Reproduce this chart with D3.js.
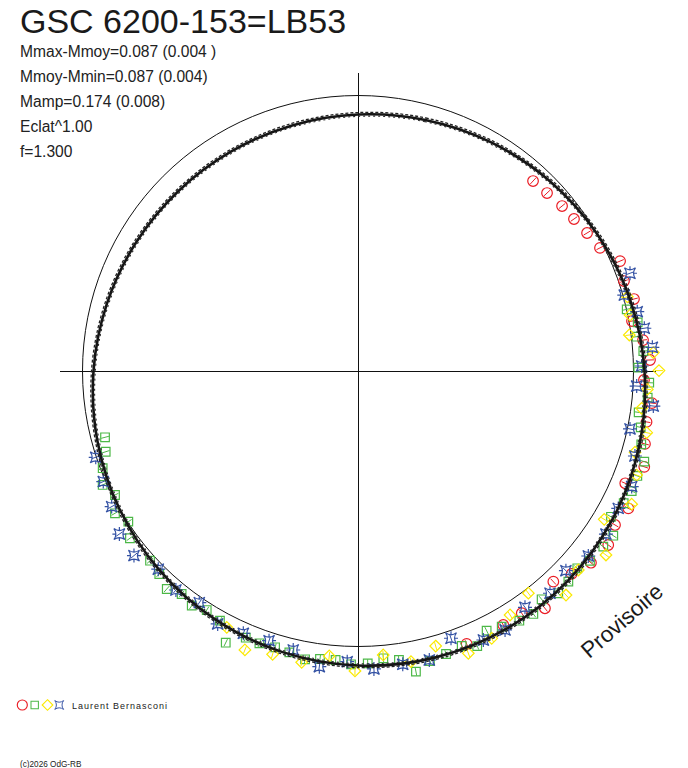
<!DOCTYPE html>
<html><head><meta charset="utf-8">
<script src="https://cdn.jsdelivr.net/npm/d3@7"></script>
<style>body{margin:0;background:#fff}svg{display:block}</style>
</head><body>
<svg id="c" width="688" height="768"></svg>
<script>
// ---- data (phase 0..1 clockwise from top, delta magnitude; negative = brighter) ----
const titleText = "GSC 6200-153=LB53";
const statLines = ["Mmax-Mmoy=0.087 (0.004 )","Mmoy-Mmin=0.087 (0.004)","Mamp=0.174 (0.008)","Eclat^1.00","f=1.300"];
const observer = "Laurent Bernasconi";
const copyright = "(c)2026 OdG-RB";
const stamp = "Provisoire";

const curvePhase = [0,0.0417,0.0833,0.125,0.1667,0.2083,0.25,0.2917,0.3333,0.375,0.4167,0.4583,0.5,0.5417,0.5833,0.625,0.6667,0.7083,0.75,0.7917,0.8333,0.875,0.9167,0.9583];
const curveMag = [0.0753,0.0615,0.0435,0.0225,0,-0.0225,-0.0435,-0.0615,-0.0753,-0.0840,-0.087,-0.0840,-0.0753,-0.0615,-0.0435,-0.0225,0,0.0225,0.0435,0.0615,0.0753,0.0840,0.087,0.0840];

const redPhase = [0.1185,0.1298,0.1418,0.1524,0.1637,0.1751,0.1868,0.1981,0.2094,0.2213,0.2328,0.2440,0.2550,0.2673,0.2778,0.2896,0.3014,0.3133,0.3248,0.3359,0.3467,0.3596,0.3709,0.3810,0.3938,0.4054,0.4173,0.4397];
const redMag = [0.0680,0.0628,0.0518,0.0451,0.0320,0.0158,-0.0344,-0.0209,-0.0383,-0.0119,-0.0443,-0.0660,-0.0419,-0.0798,-0.0692,-0.0814,-0.1043,-0.0569,-0.1095,-0.0953,-0.1158,-0.1036,-0.0759,-0.0466,-0.1051,-0.0668,-0.0676,-0.0723];

const greenPhase = [0.2141,0.2226,0.2305,0.2389,0.2481,0.2564,0.2646,0.2733,0.2813,0.2903,0.2988,0.3072,0.3158,0.3235,0.3332,0.3412,0.3489,0.3591,0.3666,0.3751,0.3833,0.3922,0.4005,0.4087,0.4185,0.4268,0.4349,0.4426,0.4520,0.4613,0.4697,0.4776,0.4860,0.4947,0.5038,0.5123,0.5209,0.5289,0.5381,0.5464,0.5553,0.5634,0.5721,0.5804,0.5898,0.5981,0.6065,0.6146,0.6233,0.6323,0.6493,0.6576,0.6657,0.6749,0.6832,0.6921,0.7007,0.7092];
const greenMag = [-0.0008,-0.0332,-0.0209,-0.0415,-0.0190,-0.0632,-0.0609,-0.0324,-0.0506,-0.0676,-0.0980,-0.0905,-0.0925,-0.0842,-0.0652,-0.1119,-0.1036,-0.0957,-0.0771,-0.0877,-0.0937,-0.0692,-0.0953,-0.0862,-0.0704,-0.0565,-0.0960,-0.0727,-0.0826,-0.0921,-0.1213,-0.0648,-0.0510,-0.0672,-0.0708,-0.0569,-0.0593,-0.0696,-0.0557,-0.0514,-0.0557,-0.0549,-0.1055,-0.0387,-0.0292,-0.0478,-0.0348,-0.0573,-0.0340,-0.0237,-0.0289,0.0032,-0.0241,0.0107,-0.0162,0.0091,0.0419,0.0553];

const yellowPhase = [0.2072,0.2177,0.2290,0.2401,0.2498,0.2601,0.2708,0.2835,0.2954,0.3069,0.3221,0.3363,0.3516,0.3669,0.3809,0.3959,0.4113,0.4262,0.4407,0.4562,0.4713,0.4859,0.5016,0.5160,0.5304,0.5466,0.5613,0.5753];
const yellowMag = [-0.0154,-0.0087,0.0071,-0.0806,-0.1008,-0.0569,-0.0419,-0.0779,-0.0522,-0.0870,-0.1142,-0.0474,-0.1316,-0.0846,-0.1194,-0.0178,-0.0474,-0.0925,-0.1091,-0.0407,-0.0791,-0.0379,-0.0968,-0.0431,-0.0838,-0.0806,-0.1008,-0.0494];

const bluePhase = [0.1951,0.2058,0.2167,0.2264,0.2372,0.2472,0.2586,0.2688,0.2834,0.2974,0.3136,0.3273,0.3426,0.3577,0.3718,0.3866,0.4021,0.4178,0.4306,0.4467,0.4615,0.4759,0.4915,0.5059,0.5207,0.5363,0.5507,0.5656,0.5806,0.5956,0.6104,0.6256,0.6403,0.6546,0.6699,0.6848,0.6994];
const blueMag = [-0.0534,-0.0055,-0.0395,-0.0553,-0.0783,-0.0324,-0.0142,-0.0866,-0.0103,-0.0561,-0.0854,-0.0743,-0.0842,-0.0787,-0.0506,-0.0719,-0.0549,-0.0881,-0.0842,-0.0296,-0.0877,-0.0838,-0.0905,-0.0609,-0.0897,-0.0431,-0.0336,-0.0427,-0.0545,-0.0209,-0.0368,-0.0233,-0.0585,-0.0534,-0.0225,-0.0087,-0.0024];

// ---- drawing ----
const svg = d3.select("#c");
const cx = 358, cy = 371;
const FONT = "'Liberation Sans', Arial, sans-serif";
const ang = d3.scaleLinear().domain([0, 1]).range([0, 2 * Math.PI]);
const rad = d3.scaleLinear().domain([0, -0.087]).range([275.5, 297.5]);

const colors = {red:"#ea1c24", green:"#4cb847", yellow:"#fbe900", blue:"#3452a4"};

// texts
svg.append("text").attr("x", 20).attr("y", 32.5).attr("font-family", FONT)
  .attr("font-size", 34).attr("fill", "#1a1a1a").text(titleText);
statLines.forEach((t, i) => {
  svg.append("text").attr("x", 20).attr("y", 57 + i * 25).attr("font-family", FONT)
    .attr("font-size", 15.6).attr("fill", "#222").text(t);
});

// mean circle
svg.append("circle").attr("cx", cx).attr("cy", cy).attr("r", rad(0))
  .attr("fill", "none").attr("stroke", "#111").attr("stroke-width", 1);

// axes
const axLen = 298;
svg.append("line").attr("x1", cx - axLen).attr("x2", cx + axLen).attr("y1", cy + 0.5).attr("y2", cy + 0.5)
  .attr("stroke", "#111").attr("stroke-width", 1);
svg.append("line").attr("x1", cx + 0.5).attr("x2", cx + 0.5).attr("y1", cy - axLen).attr("y2", cy + axLen)
  .attr("stroke", "#111").attr("stroke-width", 1);

// marker shapes
function shapePath(kind) {
  switch (kind) {
    case "circle": return "M5.3,0A5.3,5.3 0 1,1 -5.3,0A5.3,5.3 0 1,1 5.3,0Z";
    case "square": return "M-4.3,-4.3H4.3V4.3H-4.3Z";
    case "diamond": return "M0,-5.8L5.8,0L0,5.8L-5.8,0Z";
    case "star": return "M-5.5,-5.5Q0,-1.5 5.5,-5.5Q1.5,0 5.5,5.5Q0,1.5 -5.5,5.5Q-1.5,0 -5.5,-5.5Z M-7,0H-3.5 M3.5,0H7 M0,-7V-3.5 M0,3.5V7";
  }
}

function drawSeries(phases, mags, kind, color) {
  const data = phases.map((p, i) => ({p, m: mags[i]}));
  const g = svg.append("g");
  const mk = g.selectAll("g").data(data).join("g")
    .attr("transform", d => {
      const a = ang(d.p), r = rad(d.m);
      return `translate(${cx + r * Math.sin(a)},${cy - r * Math.cos(a)})`;
    });
  mk.append("path").attr("d", shapePath(kind)).attr("fill", "none")
    .attr("stroke", color).attr("stroke-width", 1.2);
  mk.append("line")
    .attr("x1", d => -4 * Math.sin(ang(d.p))).attr("y1", d => 4 * Math.cos(ang(d.p)))
    .attr("x2", d => 4 * Math.sin(ang(d.p))).attr("y2", d => -4 * Math.cos(ang(d.p)))
    .attr("stroke", color).attr("stroke-width", 1);
}

drawSeries(redPhase, redMag, "circle", colors.red);
drawSeries(greenPhase, greenMag, "square", colors.green);
drawSeries(yellowPhase, yellowMag, "diamond", colors.yellow);
drawSeries(bluePhase, blueMag, "star", colors.blue);

// fitted curve (dense band)
const curveData = curvePhase.map((p, i) => ({p, m: curveMag[i]}));
function band(offset, width, dash, col) {
  const lr = d3.lineRadial().angle(d => ang(d.p)).radius(d => rad(d.m) + offset)
    .curve(d3.curveCardinalClosed.tension(0));
  svg.append("path").attr("transform", `translate(${cx},${cy})`).attr("d", lr(curveData))
    .attr("fill", "none").attr("stroke", col).attr("stroke-width", width)
    .attr("stroke-dasharray", dash);
}
band(0, 2.6, null, "#151515");
band(2, 1.3, "3 2", "#222");
band(-1.8, 1.1, "2 3", "#2a2a2a");

// legend
const lg = svg.append("g");
[["circle", colors.red, 22.3], ["square", colors.green, 34.7], ["diamond", colors.yellow, 47.5], ["star", colors.blue, 59.2]]
  .forEach(([k, c, x]) => {
    lg.append("path").attr("transform", `translate(${x},705) scale(${k === "square" ? 0.86 : k === "diamond" ? 0.92 : k === "circle" ? 0.95 : 0.8})`)
      .attr("d", k === "star" ? "M-5.5,-5.5Q0,-1.5 5.5,-5.5Q1.5,0 5.5,5.5Q0,1.5 -5.5,5.5Q-1.5,0 -5.5,-5.5Z" : shapePath(k))
      .attr("fill", "none").attr("stroke", c).attr("stroke-width", 1.2);
  });
lg.append("text").attr("x", 72).attr("y", 709).attr("font-family", FONT).attr("font-size", 9)
  .attr("letter-spacing", 1).attr("fill", "#222").text(observer);

svg.append("text").attr("x", 20).attr("y", 767).attr("font-family", FONT).attr("font-size", 8.2)
  .attr("fill", "#222").text(copyright);

svg.append("text").attr("transform", "translate(623,622) rotate(-41)").attr("text-anchor", "middle")
  .attr("dominant-baseline", "middle").attr("font-family", FONT).attr("font-size", 22.5)
  .attr("fill", "#1a1a1a").text(stamp);
</script>
</body></html>
